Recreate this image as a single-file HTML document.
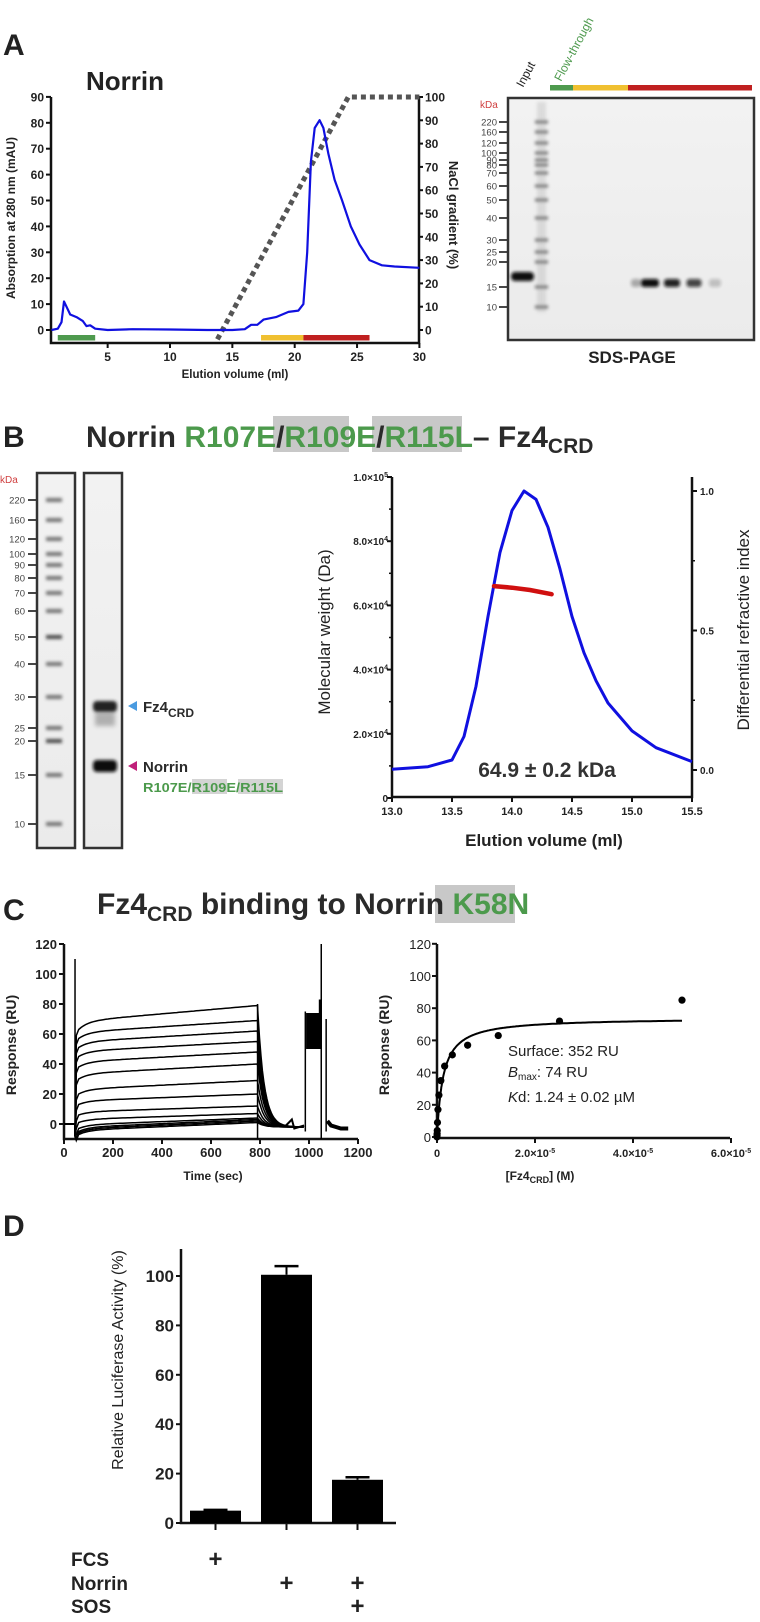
<!DOCTYPE html>
<html><head><meta charset="utf-8">
<style>
html,body{margin:0;padding:0;background:#fff;}
svg{display:block;font-family:"Liberation Sans",Arial,sans-serif;}
</style></head>
<body>
<svg id="fig" xmlns="http://www.w3.org/2000/svg" width="760" height="1622" viewBox="0 0 760 1622">
<defs>
<filter id="blur1" x="-50%" y="-200%" width="200%" height="500%"><feGaussianBlur stdDeviation="1.6"/></filter>
<filter id="blur2" x="-50%" y="-200%" width="200%" height="500%"><feGaussianBlur stdDeviation="2.5"/></filter>
<linearGradient id="gelbg" x1="0" y1="0" x2="0" y2="1"><stop offset="0" stop-color="#f2f2f2"/><stop offset="1" stop-color="#ebebeb"/></linearGradient>
</defs>

<text x="3" y="55" font-size="30" font-weight="bold" fill="#222">A</text>
<text x="86" y="90" font-size="26" font-weight="bold" fill="#222">Norrin</text>
<text x="3" y="447" font-size="30" font-weight="bold" fill="#222">B</text>
<rect x="273" y="416" width="76" height="36" fill="#c8c8c8"/>
<rect x="372" y="416" width="90" height="36" fill="#c8c8c8"/>
<text x="86" y="447" font-size="30" font-weight="bold" fill="#2a2a2a">Norrin <tspan fill="#4c9a4c">R107E</tspan>/<tspan fill="#4c9a4c">R109E</tspan>/<tspan fill="#4c9a4c">R115L</tspan>– Fz4<tspan font-size="21" dy="6">CRD</tspan></text>
<text x="3" y="920" font-size="30" font-weight="bold" fill="#222">C</text>
<rect x="435" y="885" width="80" height="38" fill="#c8c8c8"/>
<text x="97" y="914" font-size="30" font-weight="bold" fill="#2a2a2a">Fz4<tspan font-size="21" dy="7">CRD</tspan><tspan dy="-7"> binding to Norrin </tspan><tspan fill="#4c9a4c">K58N</tspan></text>
<text x="3" y="1236" font-size="30" font-weight="bold" fill="#222">D</text>

<g id="gA"></g><g id="gelA"></g><g id="gelB"></g><g id="gB"></g><g id="gC1"></g><g id="gC2"></g><g id="gD"></g>
</svg>
<script>
// ---------- DATA ----------
const aVol = [0.5,1.0,1.3,1.5,1.7,2.0,2.5,3.0,3.3,3.6,4.0,5,7,10,13,15,16,16.5,17,17.5,18.5,19.5,20.3,20.7,21.0,21.3,21.6,22.0,22.3,22.7,23.2,23.8,24.5,25.2,26,27,28,30];
const aAbs = [0,0.5,3,11,9,6,5,3.5,1.5,1.8,0.5,0,0.3,0.2,0,0,0.3,2,2,4,5,7,7.5,10,30,65,78,81,78,68,58,50,40,33,27,25,24.5,24];
const aGradVol = [13.8,24.3,30];
const aGradPct = [-4,100,100];
const aXTicks = [5,10,15,20,25,30];
const aYTicks = [0,10,20,30,40,50,60,70,80,90];
const aNaClTicks = [0,10,20,30,40,50,60,70,80,90,100];
const aFracStart = [1.0,17.3,20.7];
const aFracEnd = [4.0,20.7,26.0];
const aFracColor = ['#4e9a4e','#f0c030','#c02020'];
const gelAMarkers = ['220','160','120','100','90','80','70','60','50','40','30','25','20','15','10'];
const gelAMarkerY = [122,132,143,153,160,165,173,186,200,218,240,252,262,287,307];
const gelBMarkers = ['220','160','120','100','90','80','70','60','50','40','30','25','20','15','10'];
const gelBMarkerY = [500,520,539,554,565,578,593,611,637,664,697,728,741,775,824];
const bVol = [13.0,13.3,13.5,13.6,13.7,13.8,13.9,14.0,14.1,14.2,14.3,14.4,14.5,14.6,14.7,14.8,15.0,15.2,15.5];
const bRI = [0.003,0.012,0.036,0.12,0.3,0.55,0.78,0.93,1.0,0.97,0.87,0.72,0.55,0.42,0.32,0.24,0.14,0.08,0.03];
const bMWVol = [13.85,14.0,14.15,14.33];
const bMW = [66000,65500,64800,63500];
const bXTicks = [13.0,13.5,14.0,14.5,15.0,15.5];
const bMWTicks = [0,2,4,6,8,10];
const bRITicks = [0.0,0.5,1.0];
const cStart = [63,57,51,45,38,30,20,13,6,1,-3,-5,-6,-7];
const cEnd = [79,69,62,55,48,40,29,20,12,7,4,3,2,1];
const cXTicks = [0,200,400,600,800,1000,1200];
const cYTicks = [0,20,40,60,80,100,120];
const kConc = [5e-5,2.5e-5,1.25e-5,6.25e-6,3.13e-6,1.56e-6,7.8e-7,3.9e-7,1.95e-7,9.8e-8,4.9e-8,2.4e-8,1.2e-8,6e-9];
const kResp = [85,72,63,57,51,44,35,26,17,9,4,2,1,0];
const kBmax = 74, kKd = 1.24e-6;
const kXTicks = [0,2,4,6];
const dCats = ['FCS','Norrin','Norrin+SOS'];
const dVals = [5,100.5,17.5];
const dErr = [0.3,3.5,1];
const dYTicks = [0,20,40,60,80,100];

// ---------- HELPERS ----------
const NS='http://www.w3.org/2000/svg';
function mk(parent,tag,attrs){const e=document.createElementNS(NS,tag);for(const k in attrs)e.setAttribute(k,attrs[k]);parent.appendChild(e);return e;}
function txt(parent,x,y,s,attrs){const e=mk(parent,'text',Object.assign({x:x,y:y},attrs||{}));e.textContent=s;return e;}
function pts(xs,ys,fx,fy){return xs.map((v,i)=>fx(v).toFixed(1)+','+fy(ys[i]).toFixed(1)).join(' ');}

// ---------- PANEL A CHART ----------
(function(){
const g=document.getElementById('gA');
const xA=v=>45.3+v*12.47, yA=v=>330-v*2.59, yN=p=>330-p*2.33;
let e;
e=mk(g,'path',{d:'M51,97 V343 H419 V97',fill:'none',stroke:'#111','stroke-width':2.5});


aYTicks.forEach(v=>{mk(g,'line',{x1:46,x2:51,y1:yA(v),y2:yA(v),stroke:'#111','stroke-width':2});
 e=txt(g,44,yA(v)+4.5,String(v),{'font-size':12,'font-weight':'bold','text-anchor':'end',fill:'#222'});
 
 });
aXTicks.forEach(v=>{mk(g,'line',{x1:xA(v),x2:xA(v),y1:343,y2:348,stroke:'#111','stroke-width':2});
 e=txt(g,xA(v),361,String(v),{'font-size':12,'font-weight':'bold','text-anchor':'middle',fill:'#222'});
 
 });
aNaClTicks.forEach(v=>{mk(g,'line',{x1:419,x2:423,y1:yN(v),y2:yN(v),stroke:'#111','stroke-width':2});
 e=txt(g,425,yN(v)+4.5,String(v),{'font-size':12,'font-weight':'bold',fill:'#222'});
 
 });
e=txt(g,235,378,'Elution volume (ml)',{'font-size':11.5,'font-weight':'bold','text-anchor':'middle',fill:'#222'});


e=txt(g,0,0,'Absorption at 280 nm (mAU)',{'font-size':12,'font-weight':'bold','text-anchor':'middle',fill:'#222',transform:'translate(15,218) rotate(-90)'});


e=txt(g,0,0,'NaCl gradient (%)',{'font-size':13,'font-weight':'bold','text-anchor':'middle',fill:'#222',transform:'translate(449,215) rotate(90)'});


aFracStart.forEach((s,i)=>{e=mk(g,'rect',{x:xA(s),y:335,width:xA(aFracEnd[i])-xA(s),height:5.5,fill:aFracColor[i]});
 
 });
e=mk(g,'polyline',{points:pts(aGradVol,aGradPct,xA,yN),fill:'none',stroke:'#555','stroke-width':5,'stroke-dasharray':'5,4'});


e=mk(g,'polyline',{points:pts(aVol,aAbs,xA,yA),fill:'none',stroke:'#1010e0','stroke-width':2.2,'stroke-linejoin':'round'});


})();

// ---------- GEL A ----------
(function(){
const g=document.getElementById('gelA');let e;
e=mk(g,'rect',{x:508,y:98,width:246,height:242,fill:'url(#gelbg)',stroke:'#333','stroke-width':2.5});


e=txt(g,480,108,'kDa',{'font-size':10,fill:'#d04040'});


gelAMarkers.forEach((m,i)=>{const y=gelAMarkerY[i];
 mk(g,'line',{x1:499,x2:507,y1:y,y2:y,stroke:'#333','stroke-width':1.8});
 e=txt(g,497,y+3.5,m,{'font-size':9.5,'text-anchor':'end',fill:'#444'});
 
 
 mk(g,'rect',{x:535,y:y-1.5,width:13,height:3,fill:'#555',opacity:0.8,filter:'url(#blur1)'});});
mk(g,'rect',{x:537,y:102,width:9,height:210,fill:'#999',opacity:0.25,filter:'url(#blur1)'});
mk(g,'rect',{x:511,y:272,width:23,height:9,rx:4,fill:'#111',filter:'url(#blur1)'});
[[634,10,0.3],[648,18,1],[670,16,0.9],[692,15,0.75],[713,12,0.2]].forEach(b=>{
 e=mk(g,'rect',{x:b[0]-b[1]/2+2,y:279,width:b[1],height:8,rx:3,fill:'#111',opacity:b[2],filter:'url(#blur1)'});
 
 });
[[550,573,'#4e9a4e'],[573,628,'#f0c030'],[628,752,'#c02020']].forEach(b=>{mk(g,'rect',{x:b[0],y:85,width:b[1]-b[0],height:5.5,fill:b[2]});});
e=txt(g,0,0,'Input',{'font-size':12,fill:'#222',transform:'translate(523,88) rotate(-62)'});


e=txt(g,0,0,'Flow-through',{'font-size':12,fill:'#4e9a4e',transform:'translate(561,82) rotate(-62)'});


e=txt(g,632,363,'SDS-PAGE',{'font-size':17,'font-weight':'bold','text-anchor':'middle',fill:'#222'});


})();

// ---------- GEL B ----------
(function(){
const g=document.getElementById('gelB');let e;
[[37,38],[84,38]].forEach(f=>{e=mk(g,'rect',{x:f[0],y:473,width:f[1],height:375,fill:'url(#gelbg)',stroke:'#333','stroke-width':2.5});
 
 });
e=txt(g,0,483,'kDa',{'font-size':10,fill:'#d04040'});


gelBMarkers.forEach((m,i)=>{const y=gelBMarkerY[i];
 mk(g,'line',{x1:28,x2:36,y1:y,y2:y,stroke:'#333','stroke-width':1.8});
 e=txt(g,25,y+3.5,m,{'font-size':9.5,'text-anchor':'end',fill:'#444'});
 
 
 const dark=(m==='50'||m==='20')?'#222':'#555';
 mk(g,'rect',{x:46,y:y-2,width:16,height:4,fill:dark,opacity:0.8,filter:'url(#blur1)'});});
e=mk(g,'rect',{x:93,y:701,width:24,height:11,rx:4,fill:'#222',filter:'url(#blur1)'});


mk(g,'rect',{x:95,y:712,width:20,height:14,fill:'#555',opacity:0.4,filter:'url(#blur2)'});
e=mk(g,'rect',{x:93,y:760,width:24,height:12,rx:4,fill:'#111',filter:'url(#blur1)'});


e=mk(g,'polygon',{points:'128,706 137,701 137,711',fill:'#4a9be0'});


e=txt(g,143,712,'Fz4',{'font-size':15,'font-weight':'bold',fill:'#2a2a2a'});
const ts=mk(e,'tspan',{'font-size':12,dy:5});ts.textContent='CRD';


e=mk(g,'polygon',{points:'128,766 137,761 137,771',fill:'#c0207a'});


e=txt(g,143,772,'Norrin',{'font-size':15,'font-weight':'bold',fill:'#2a2a2a'});


mk(g,'rect',{x:192,y:779,width:35,height:15,fill:'#d4d4d4'});
mk(g,'rect',{x:238,y:779,width:45,height:15,fill:'#d4d4d4'});
e=txt(g,143,792,'R107E/R109E/R115L',{'font-size':13,'font-weight':'bold',fill:'#4c9a4c',textLength:140,lengthAdjust:'spacingAndGlyphs'});


})();

// ---------- PANEL B CHART ----------
(function(){
const g=document.getElementById('gB');let e;
const xB=v=>392+(v-13)*120, yMW=v=>798-v*0.00321, yRI=v=>770-v*279;
e=mk(g,'path',{d:'M392,477 V797 H692 V477',fill:'none',stroke:'#111','stroke-width':2.5});


bMWTicks.forEach(v=>{const y=yMW(v*1e4);mk(g,'line',{x1:387,x2:392,y1:y,y2:y,stroke:'#111','stroke-width':2});
 e=txt(g,388,y+4,'',{'font-size':10,'font-weight':'bold','text-anchor':'end',fill:'#222'});
 if(v===0){e.textContent='0';}else{
  const mant=(v===10?'1.0':(v.toFixed(1)))+'×10';
  e.textContent=mant;const s=mk(e,'tspan',{'font-size':7,dy:-4});s.textContent=(v===10?'5':'4');}
 
 });
for(let k=1;k<10;k+=2){const y=yMW(k*1e4);mk(g,'line',{x1:389,x2:392,y1:y,y2:y,stroke:'#111','stroke-width':1.5});}
bRITicks.forEach(v=>{const y=yRI(v);mk(g,'line',{x1:692,x2:697,y1:y,y2:y,stroke:'#111','stroke-width':2});
 e=txt(g,700,y+4,v.toFixed(1),{'font-size':10,'font-weight':'bold',fill:'#222'});
 
 });
[0.25,0.75].forEach(v=>{mk(g,'line',{x1:692,x2:695,y1:yRI(v),y2:yRI(v),stroke:'#111','stroke-width':1.5});});
bXTicks.forEach(v=>{mk(g,'line',{x1:xB(v),x2:xB(v),y1:797,y2:802,stroke:'#111','stroke-width':2});
 e=txt(g,xB(v),815,v.toFixed(1),{'font-size':11,'font-weight':'bold','text-anchor':'middle',fill:'#222'});
 
 });
e=txt(g,544,846,'Elution volume (ml)',{'font-size':17,'font-weight':'bold','text-anchor':'middle',fill:'#222'});


e=txt(g,0,0,'Molecular weight (Da)',{'font-size':17,'text-anchor':'middle',fill:'#222',transform:'translate(330,632) rotate(-90)'});


e=txt(g,0,0,'Differential refractive index',{'font-size':17,'text-anchor':'middle',fill:'#222',transform:'translate(749,630) rotate(-90)'});


e=mk(g,'polyline',{points:pts(bVol,bRI,xB,yRI),fill:'none',stroke:'#1010e0','stroke-width':3,'stroke-linejoin':'round'});


e=mk(g,'polyline',{points:pts(bMWVol,bMW,xB,yMW),fill:'none',stroke:'#d01010','stroke-width':4.5,'stroke-linecap':'round'});


e=txt(g,547,777,'64.9 ± 0.2 kDa',{'font-size':21,'font-weight':'bold','text-anchor':'middle',fill:'#333'});


})();

// ---------- PANEL C LEFT ----------
(function(){
const g=document.getElementById('gC1');let e;
const xC=t=>64+t*0.245, yC=v=>1124-v*1.5;
e=mk(g,'path',{d:'M64,944 V1139 H358',fill:'none',stroke:'#111','stroke-width':2.5});


cYTicks.forEach(v=>{mk(g,'line',{x1:59,x2:64,y1:yC(v),y2:yC(v),stroke:'#111','stroke-width':2});
 e=txt(g,57,yC(v)+5,String(v),{'font-size':13,'font-weight':'bold','text-anchor':'end',fill:'#222'});
 
 });
cXTicks.forEach(v=>{mk(g,'line',{x1:xC(v),x2:xC(v),y1:1139,y2:1144,stroke:'#111','stroke-width':2});
 e=txt(g,xC(v),1157,String(v),{'font-size':13,'font-weight':'bold','text-anchor':'middle',fill:'#222'});
 
 });
e=txt(g,213,1180,'Time (sec)',{'font-size':12,'font-weight':'bold','text-anchor':'middle',fill:'#222'});


e=txt(g,0,0,'Response (RU)',{'font-size':14,'font-weight':'bold','text-anchor':'middle',fill:'#222',transform:'translate(16,1045) rotate(-90)'});


cStart.forEach((s,i)=>{const en=cEnd[i];const P=[];
 for(let t=0;t<=44;t+=4)P.push([t,0]);
 P.push([45,-8]);P.push([50,s-4]);
 for(let t=60;t<=790;t+=10){const f=0.35*(1-Math.exp(-(t-60)/40))+0.65*(t-60)/730;P.push([t,s+(en-s)*f]);}
 for(let t=792;t<=980;t+=6){P.push([t,(en+2)*Math.exp(-(t-790)/26)-2]);}
 e=mk(g,'polyline',{points:P.map(p=>xC(p[0]).toFixed(1)+','+yC(p[1]).toFixed(1)).join(' '),fill:'none',stroke:'#000','stroke-width':1.5});
 
 });
mk(g,'line',{x1:xC(45),x2:xC(45),y1:yC(-8),y2:yC(110),stroke:'#000','stroke-width':1.5});
mk(g,'line',{x1:xC(790),x2:xC(790),y1:yC(80),y2:yC(-10),stroke:'#000','stroke-width':1.5});
mk(g,'line',{x1:xC(985),x2:xC(985),y1:yC(-5),y2:yC(75),stroke:'#000','stroke-width':1.5});
mk(g,'line',{x1:xC(1050),x2:xC(1050),y1:yC(-10),y2:yC(120),stroke:'#000','stroke-width':1.5});
mk(g,'line',{x1:xC(1070),x2:xC(1070),y1:yC(-5),y2:yC(70),stroke:'#000','stroke-width':1.5});
e=mk(g,'rect',{x:xC(988),y:yC(74),width:xC(1048)-xC(988),height:yC(50)-yC(74),fill:'#000'});


mk(g,'rect',{x:xC(1040),y:yC(83),width:3,height:yC(50)-yC(83),fill:'#000'});
mk(g,'polyline',{points:[[1075,2],[1090,-1],[1110,-2],[1130,-3],[1160,-3]].map(p=>xC(p[0])+','+yC(p[1])).join(' '),fill:'none',stroke:'#000','stroke-width':4});
mk(g,'polyline',{points:[[900,-2],[930,3],[940,-3],[980,-1]].map(p=>xC(p[0])+','+yC(p[1])).join(' '),fill:'none',stroke:'#000','stroke-width':2});
})();

// ---------- PANEL C RIGHT ----------
(function(){
const g=document.getElementById('gC2');let e;
const xK=c=>437+c*4.9e6, yK=v=>1137-v*1.61;
e=mk(g,'path',{d:'M437,944 V1138 H730',fill:'none',stroke:'#111','stroke-width':2.5});


cYTicks.forEach(v=>{mk(g,'line',{x1:432,x2:437,y1:yK(v),y2:yK(v),stroke:'#111','stroke-width':2});
 e=txt(g,431,yK(v)+5,String(v),{'font-size':13,'text-anchor':'end',fill:'#222'});
 
 });
kXTicks.forEach(v=>{const x=xK(v*1e-5);mk(g,'line',{x1:x,x2:x,y1:1138,y2:1143,stroke:'#111','stroke-width':2});
 e=txt(g,x,1157,v===0?'0':v.toFixed(1)+'×10',{'font-size':11,'font-weight':'bold','text-anchor':'middle',fill:'#222'});
 if(v!==0){const s=mk(e,'tspan',{'font-size':7,dy:-4});s.textContent='-5';}
 
 });
e=txt(g,540,1180,'[Fz4',{'font-size':12,'font-weight':'bold','text-anchor':'middle',fill:'#222'});
let s=mk(e,'tspan',{'font-size':9,dy:3});s.textContent='CRD';
s=mk(e,'tspan',{dy:-3});s.textContent='] (M)';


e=txt(g,0,0,'Response (RU)',{'font-size':14,'font-weight':'bold','text-anchor':'middle',fill:'#222',transform:'translate(389,1045) rotate(-90)'});


const P=[];for(let i=0;i<=200;i++){const c=5e-5*Math.pow(i/200,2.2);P.push(xK(c).toFixed(1)+','+yK(kBmax*c/(c+kKd)).toFixed(1));}
e=mk(g,'polyline',{points:P.join(' '),fill:'none',stroke:'#000','stroke-width':2});


kConc.forEach((c,i)=>{e=mk(g,'circle',{cx:xK(c),cy:yK(kResp[i]),r:3.6,fill:'#000'});
 
 });
e=txt(g,508,1056,'Surface: 352 RU',{'font-size':15,fill:'#222'});


e=txt(g,508,1077,'',{'font-size':15,fill:'#222'});
s=mk(e,'tspan',{'font-style':'italic'});s.textContent='B';
s=mk(e,'tspan',{'font-size':10,dy:3});s.textContent='max';
s=mk(e,'tspan',{dy:-3});s.textContent=': 74 RU';


e=txt(g,508,1102,'',{'font-size':15,fill:'#222'});
s=mk(e,'tspan',{'font-style':'italic'});s.textContent='K';
s=mk(e,'tspan',{});s.textContent='d: 1.24 ± 0.02 µM';


})();

// ---------- PANEL D ----------
(function(){
const g=document.getElementById('gD');let e;
const yD=v=>1523-v*2.47;
const bx=[190,261,332], bw=51;
e=mk(g,'path',{d:'M181,1249 V1523 H396',fill:'none',stroke:'#111','stroke-width':2.5});


dYTicks.forEach(v=>{mk(g,'line',{x1:176,x2:181,y1:yD(v),y2:yD(v),stroke:'#111','stroke-width':2});
 e=txt(g,174,yD(v)+6,String(v),{'font-size':17,'font-weight':'bold','text-anchor':'end',fill:'#222'});
 
 });
e=txt(g,0,0,'Relative Luciferase Activity (%)',{'font-size':16,'text-anchor':'middle',fill:'#222',transform:'translate(123,1360) rotate(-90)'});


dVals.forEach((v,i)=>{const x=bx[i];
 e=mk(g,'rect',{x:x,y:yD(v),width:bw,height:1523-yD(v),fill:'#000'});
 
 
 mk(g,'line',{x1:x+bw/2,x2:x+bw/2,y1:yD(v),y2:yD(v+dErr[i]),stroke:'#000','stroke-width':2});
 mk(g,'line',{x1:x+bw/2-12,x2:x+bw/2+12,y1:yD(v+dErr[i]),y2:yD(v+dErr[i]),stroke:'#000','stroke-width':2.5});
 mk(g,'line',{x1:x+bw/2,x2:x+bw/2,y1:1523,y2:1530,stroke:'#111','stroke-width':2});});
const rows=[['FCS',1566,[0]],['Norrin',1590,[1,2]],['SOS',1613,[2]]];
rows.forEach(r=>{e=txt(g,71,r[1],r[0],{'font-size':19,'font-weight':'bold',fill:'#222'});
 
 
 r[2].forEach(i=>{e=txt(g,bx[i]+bw/2,r[1]+1,'+',{'font-size':24,'font-weight':'bold','text-anchor':'middle',fill:'#222'});
  
  });});
})();
</script>
</body></html>
